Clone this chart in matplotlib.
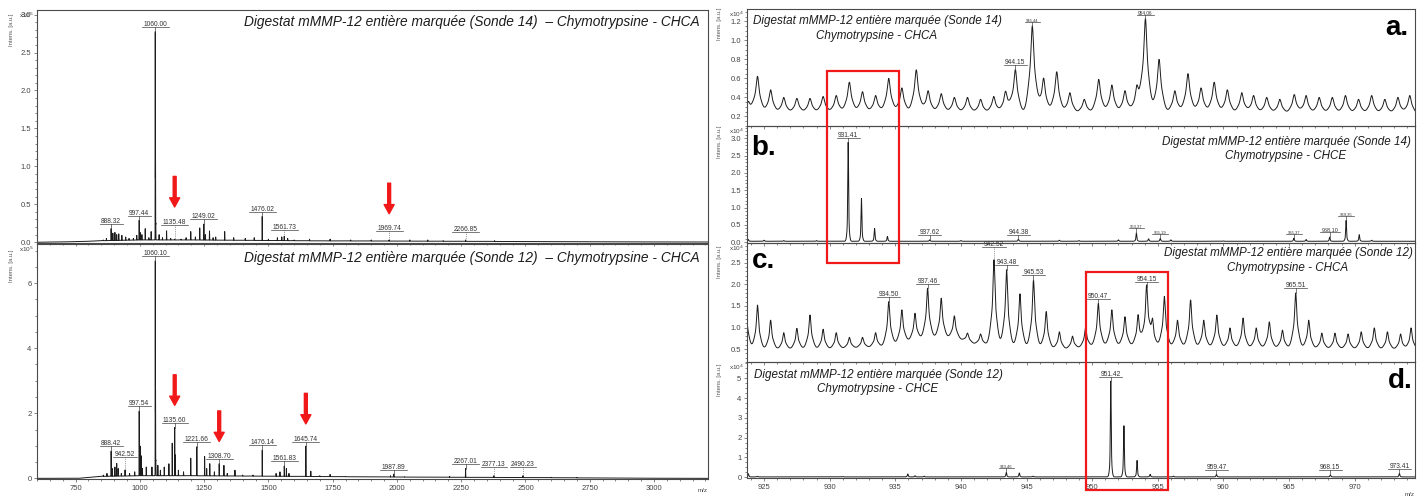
import numpy as np
import matplotlib
matplotlib.use("Agg")
import matplotlib.pyplot as plt
from matplotlib.patches import Rectangle
from matplotlib.lines import Line2D
from matplotlib.transforms import IdentityTransform
from matplotlib.ticker import MultipleLocator, FormatStrFormatter

plt.rcParams['font.family'] = ['Liberation Sans', 'DejaVu Sans']

# ---------------- full-range spectra, intensity in x10^5 a.u. ----------------
S14_MZ = [858, 870, 888.32, 895, 903, 910, 918, 930, 945, 958, 975, 988, 997.44, 1001, 1008,
          1021, 1035, 1044, 1060.00, 1061.0, 1062.0, 1075, 1088, 1104, 1120, 1135.48, 1160, 1180,
          1198, 1216, 1233, 1249.02, 1255, 1271, 1285, 1295, 1330, 1365, 1410, 1445, 1476.02,
          1500, 1535, 1552, 1561.73, 1575, 1600, 1660, 1740, 1820, 1900, 1969.74, 2050, 2120,
          2180, 2266.85, 2380]
S14_INT = [0.03, 0.05, 0.18, 0.12, 0.13, 0.10, 0.11, 0.09, 0.07, 0.05, 0.05, 0.09, 0.29, 0.13, 0.10,
           0.18, 0.06, 0.14, 2.77, 1.13, 0.25, 0.10, 0.06, 0.15, 0.05, 0.04, 0.04, 0.06,
           0.14, 0.07, 0.19, 0.24, 0.10, 0.15, 0.06, 0.07, 0.14, 0.06, 0.05, 0.06, 0.34,
           0.04, 0.06, 0.07, 0.08, 0.05, 0.03, 0.04, 0.04, 0.03, 0.03, 0.03, 0.03, 0.03,
           0.02, 0.03, 0.02]
S14_BASE_MZ = [600, 680, 780, 850, 1000, 1200, 1400, 1700, 2000, 2400, 2800, 3210]
S14_BASE_INT = [0.0, 0.003, 0.01, 0.02, 0.03, 0.03, 0.025, 0.018, 0.015, 0.01, 0.005, 0.003]
S14_LABELS = [888.32, 997.44, 1060.00, 1135.48, 1249.02, 1476.02, 1561.73, 1969.74, 2266.85]
S14_ARROWS = [1135.48, 1969.74]

S12_MZ = [858, 872, 888.42, 893, 903, 910, 916, 928, 942.52, 960, 980, 997.54, 1001, 1005, 1010,
          1025, 1047, 1060.10, 1061.1, 1062.1, 1070, 1080, 1095, 1113, 1126, 1135.60, 1138, 1150,
          1170, 1198, 1221.66, 1252, 1260, 1272, 1290, 1308.70, 1327, 1340, 1370, 1400, 1440,
          1476.14, 1530, 1545, 1561.83, 1570, 1580, 1645.74, 1665, 1700, 1740, 1800, 1975,
          1987.89, 2030, 2205, 2267.01, 2377.13, 2490.23, 2600, 2700]
S12_INT = [0.10, 0.15, 0.84, 0.30, 0.35, 0.46, 0.30, 0.15, 0.26, 0.15, 0.20, 2.07, 1.00, 0.70, 0.30,
           0.35, 0.35, 6.69, 2.69, 0.57, 0.40, 0.25, 0.35, 0.45, 1.08, 1.56, 0.72, 0.25,
           0.20, 0.62, 0.97, 0.67, 0.30, 0.45, 0.20, 0.45, 0.40, 0.15, 0.25, 0.10, 0.10,
           0.87, 0.15, 0.20, 0.38, 0.30, 0.15, 0.99, 0.22, 0.08, 0.12, 0.06, 0.08,
           0.13, 0.05, 0.06, 0.30, 0.08, 0.08, 0.03, 0.03]
S12_BASE_MZ = [600, 760, 800, 850, 1000, 1200, 1400, 1600, 1800, 2000, 2300, 2600, 2900, 3210]
S12_BASE_INT = [0.0, 0.0, 0.03, 0.06, 0.08, 0.08, 0.07, 0.06, 0.05, 0.04, 0.03, 0.02, 0.005, 0.0]
S12_LABELS = [888.42, 942.52, 997.54, 1060.10, 1135.60, 1221.66, 1308.70, 1476.14, 1561.83,
              1645.74, 1987.89, 2267.01, 2377.13, 2490.23]
S12_ARROWS = [1135.60, 1308.70, 1645.74]

# ---------------- zoomed spectra 923-975, intensity in x10^4 a.u. ----------------
A_MZ = [923.8, 924.5, 925.5, 926.5, 927.5, 928.5, 929.5, 930.5, 931.5, 932.5, 933.5, 934.5, 935.5,
        936.6, 937.5, 938.5, 939.5, 940.5, 941.5, 942.5, 943.4, 944.15, 945.44, 946.3, 947.3,
        948.3, 949.4, 950.5, 951.5, 952.5, 953.4, 954.06, 955.1, 956.3, 957.3, 958.3, 959.3,
        960.3, 961.4, 962.3, 963.3, 964.3, 965.4, 966.3, 967.3, 968.3, 969.3, 970.3, 971.3,
        972.3, 973.3, 974.2]
A_INT = [0.35, 0.62, 0.48, 0.40, 0.39, 0.39, 0.41, 0.42, 0.56, 0.46, 0.42, 0.60, 0.50,
         0.69, 0.47, 0.44, 0.40, 0.40, 0.38, 0.41, 0.46, 0.69, 1.15, 0.60, 0.67,
         0.45, 0.38, 0.59, 0.53, 0.47, 0.50, 1.22, 0.80, 0.47, 0.65, 0.50, 0.56,
         0.48, 0.45, 0.42, 0.40, 0.38, 0.43, 0.42, 0.40, 0.40, 0.42, 0.38, 0.42,
         0.38, 0.40, 0.42]
A_BASE_MZ = [923.0, 935.0, 945.0, 955.0, 976.0]
A_BASE_INT = [0.23, 0.24, 0.23, 0.24, 0.22]
A_LABELS = [944.15, 945.44, 954.06]

B_MZ = [923.8, 925.0, 926.5, 929.0, 931.41, 932.42, 933.42, 934.40, 937.62, 940.0, 944.38, 947.5,
        949.0, 952.0, 953.37, 954.3, 955.19, 956.0, 960.0, 965.37, 966.3, 968.10, 969.35,
        970.35, 971.3]
B_INT = [0.08, 0.06, 0.05, 0.05, 2.88, 1.26, 0.40, 0.17, 0.07, 0.05, 0.09, 0.06,
         0.05, 0.07, 0.27, 0.10, 0.11, 0.07, 0.04, 0.12, 0.08, 0.15, 0.63,
         0.22, 0.06]
B_BASE_MZ = [923.0, 976.0]
B_BASE_INT = [0.03, 0.03]
B_LABELS = [931.41, 937.62, 944.38, 953.37, 955.19, 965.37, 968.10, 969.35]

C_MZ = [923.6, 924.5, 925.5, 926.5, 927.5, 928.5, 929.5, 930.5, 931.5, 932.5, 933.5, 934.50, 935.5,
        936.5, 937.46, 938.5, 939.5, 940.5, 941.5, 942.52, 943.48, 944.5, 945.53, 946.5, 947.5,
        948.5, 949.5, 950.47, 951.5, 952.5, 953.5, 954.15, 954.6, 955.5, 956.5, 957.5, 958.5,
        959.5, 960.5, 961.5, 962.5, 963.5, 964.5, 965.51, 966.5, 967.5, 968.5, 969.5, 970.5,
        971.5, 972.5, 973.5, 974.3]
C_INT = [1.72, 1.52, 1.17, 0.88, 0.98, 1.29, 0.96, 0.88, 0.77, 0.77, 0.88, 1.60, 1.41,
         1.33, 1.91, 1.68, 1.27, 0.87, 0.85, 2.57, 2.34, 1.78, 2.10, 1.37, 0.90,
         0.80, 0.99, 1.56, 1.41, 1.25, 1.29, 1.95, 1.13, 1.72, 1.17, 1.64, 1.17,
         1.29, 0.99, 1.22, 0.99, 1.13, 0.94, 1.80, 1.17, 0.87, 0.87, 0.85, 0.90,
         0.99, 0.90, 0.85, 0.99]
C_BASE_MZ = [923.0, 930.0, 934.0, 936.0, 937.5, 939.5, 941.0, 944.0, 948.0, 951.0, 958.0, 976.0]
C_BASE_INT = [0.48, 0.50, 0.55, 0.68, 0.76, 0.76, 0.62, 0.55, 0.50, 0.58, 0.55, 0.48]
C_LABELS = [934.50, 937.46, 942.52, 943.48, 945.53, 950.47, 954.15, 965.51]

D_MZ = [923.8, 924.5, 931.0, 935.95, 936.5, 937.2, 943.46, 944.45, 945.5, 951.42, 952.42, 953.42,
        954.42, 956.2, 959.47, 968.15, 973.41]
D_INT = [0.18, 0.05, 0.04, 0.17, 0.08, 0.06, 0.25, 0.22, 0.06, 4.85, 2.60, 0.85,
         0.15, 0.06, 0.15, 0.12, 0.20]
D_BASE_MZ = [923.0, 976.0]
D_BASE_INT = [0.02, 0.02]
D_LABELS = [943.46, 951.42, 959.47, 968.15, 973.41]

TITLE_14 = "Digestat mMMP-12 entière marquée (Sonde 14)"
TITLE_12 = "Digestat mMMP-12 entière marquée (Sonde 12)"

# ---------------- styling ----------------
W, H, DPI = 1427, 500, 100
INK = '#1c1c1c'
RED = '#f01818'
LABEL_SIZE = 4.8
SMALL_LABEL_SIZE = {945.44: 3.0, 954.06: 3.4, 953.37: 3.0, 955.19: 3.0, 965.37: 3.0,
                    969.35: 3.0, 968.10: 4.0, 943.46: 3.0}
LABEL_LIFT_PX = {1135.48: 10, 942.52: 8, 2377.13: 4, 2490.23: 4, 1969.74: 4, 2266.85: 3,
                 1561.73: 2}

fig = plt.figure(figsize=(W / DPI, H / DPI), dpi=DPI)
fig.patch.set_facecolor('white')


def px_axes(l, t, r, b):
    return fig.add_axes([l / W, 1 - b / H, (r - l) / W, (b - t) / H])


def profile(x, mz, inten, base_mz, base_int, shape):
    base = np.interp(x, base_mz, base_int)
    y = base.copy()
    for m, h in zip(mz, inten):
        amp = max(h - np.interp(m, base_mz, base_int), 0.0)
        for frac, sig in shape:
            y += amp * frac * np.exp(-0.5 * ((x - m) / sig) ** 2)
    return y


def style_axes(ax, xlim, ylim, xmaj, xmin, ymaj, ymin, yfmt, xlabels):
    ax.set_xlim(*xlim)
    ax.set_ylim(*ylim)
    ax.xaxis.set_major_locator(MultipleLocator(xmaj))
    ax.xaxis.set_minor_locator(MultipleLocator(xmin))
    ax.yaxis.set_major_locator(MultipleLocator(ymaj))
    ax.yaxis.set_minor_locator(MultipleLocator(ymin))
    ax.yaxis.set_major_formatter(FormatStrFormatter(yfmt))
    ax.tick_params(which='both', direction='out', color='#555555', width=0.5,
                   labelsize=5.5, labelcolor='#444444', pad=1.5)
    ax.tick_params(which='major', length=2.5)
    ax.tick_params(which='minor', length=1.5)
    ax.tick_params(axis='x', labelbottom=xlabels)
    for s in ax.spines.values():
        s.set_color('#4a4a4a')
        s.set_linewidth(0.8)
    ax.patch.set_alpha(0)


label_records = []


def label_peaks(ax, mz, inten, labels):
    for lab in labels:
        i = int(np.argmin(np.abs(np.asarray(mz) - lab)))
        h = inten[i]
        fs = SMALL_LABEL_SIZE.get(lab, LABEL_SIZE)
        lift = LABEL_LIFT_PX.get(lab, 0) * 0.72
        t = ax.annotate(f"{lab:.2f}", xy=(mz[i], h), xytext=(0, 2.6 + lift),
                        textcoords='offset points', ha='center', va='bottom',
                        fontsize=fs, color='#333333', zorder=5)
        label_records.append((ax, t, mz[i], h))


def red_arrows(ax, mz, inten, targets):
    for tgt in targets:
        i = int(np.argmin(np.abs(np.asarray(mz) - tgt)))
        lift = LABEL_LIFT_PX.get(tgt, 0) * 0.72
        ax.annotate('', xy=(mz[i], inten[i]), xytext=(0, 16 + lift + 22),
                    textcoords='offset points',
                    arrowprops=dict(arrowstyle='simple,head_length=1.1,head_width=1.2,tail_width=0.35',
                                    color=RED, shrinkA=0, shrinkB=16 + lift, mutation_scale=6),
                    zorder=6)


def intens_label(x_px, y_center_px, power, ax_left_px, ax_top_px):
    fig.text(x_px / W, 1 - y_center_px / H, "Intens. [a.u.]", rotation=90, ha='center',
             va='center', fontsize=4.2, color='#555555')
    fig.text((ax_left_px - 3) / W, 1 - (ax_top_px + 1) / H, r"x10$^{%d}$" % power,
             ha='right', va='top', fontsize=4.6, color='#444444')


# ---------------- left column: full m/z range ----------------
xl = np.arange(600, 3210, 0.08)
left_shape = [(1.0, 0.3)]

ax1 = px_axes(37, 10, 708, 243)
ax1.plot(xl, profile(xl, S14_MZ, S14_INT, S14_BASE_MZ, S14_BASE_INT, left_shape),
         color=INK, lw=0.7)
style_axes(ax1, (600, 3210), (-0.01, 3.06), 250, 50, 0.5, 0.1, '%.1f', False)
label_peaks(ax1, S14_MZ, S14_INT, S14_LABELS)
red_arrows(ax1, S14_MZ, S14_INT, S14_ARROWS)
intens_label(11, 30, 5, 37, 10)

ax2 = px_axes(37, 244, 708, 479)
ax2.plot(xl, profile(xl, S12_MZ, S12_INT, S12_BASE_MZ, S12_BASE_INT, left_shape),
         color=INK, lw=0.7)
style_axes(ax2, (600, 3210), (-0.02, 7.2), 250, 50, 2, 0.5, '%d', True)
label_peaks(ax2, S12_MZ, S12_INT, S12_LABELS)
red_arrows(ax2, S12_MZ, S12_INT, S12_ARROWS)
intens_label(11, 266, 5, 37, 244)
fig.text(703 / W, 1 - 490 / H, "m/z", ha='center', va='center', fontsize=4.5, color='#444444')

fig.text(700 / W, 1 - 22 / H, TITLE_14 + "  – Chymotrypsine - CHCA", ha='right', va='center',
         fontsize=9.9, style='italic', color=INK)
fig.text(700 / W, 1 - 258 / H, TITLE_12 + "  – Chymotrypsine - CHCA", ha='right', va='center',
         fontsize=9.9, style='italic', color=INK)

# ---------------- right column: zoom 923-975 ----------------
xr = np.arange(923.7, 974.6, 0.005)
XR = (923.7, 974.6)

axa = px_axes(747, 9, 1415, 126)
axa.plot(xr, profile(xr, A_MZ, A_INT, A_BASE_MZ, A_BASE_INT, [(0.4, 0.08), (0.6, 0.27)]),
         color=INK, lw=0.7)
style_axes(axa, XR, (0.10, 1.33), 5, 1, 0.2, 0.05, '%.1f', False)
label_peaks(axa, A_MZ, A_INT, A_LABELS)
intens_label(720, 24, 4, 747, 9)

axb = px_axes(747, 126, 1415, 243)
axb.plot(xr, profile(xr, B_MZ, B_INT, B_BASE_MZ, B_BASE_INT, [(0.8, 0.03), (0.2, 0.08)]),
         color=INK, lw=0.7)
style_axes(axb, XR, (-0.02, 3.35), 5, 1, 0.5, 0.1, '%.1f', False)
label_peaks(axb, B_MZ, B_INT, B_LABELS)
intens_label(720, 142, 4, 747, 126)

axc = px_axes(747, 243, 1415, 362)
axc.plot(xr, profile(xr, C_MZ, C_INT, C_BASE_MZ, C_BASE_INT, [(0.5, 0.06), (0.5, 0.22)]),
         color=INK, lw=0.7)
style_axes(axc, XR, (0.2, 2.96), 5, 1, 0.5, 0.1, '%.1f', False)
label_peaks(axc, C_MZ, C_INT, C_LABELS)
intens_label(720, 262, 4, 747, 243)

axd = px_axes(747, 362, 1415, 478)
axd.plot(xr, profile(xr, D_MZ, D_INT, D_BASE_MZ, D_BASE_INT, [(0.8, 0.03), (0.2, 0.08)]),
         color=INK, lw=0.7)
style_axes(axd, XR, (-0.035, 5.82), 5, 1, 1, 0.25, '%d', True)
label_peaks(axd, D_MZ, D_INT, D_LABELS)
intens_label(720, 380, 4, 747, 362)
fig.text(1410 / W, 1 - 494 / H, "m/z", ha='center', va='center', fontsize=4.5, color='#444444')

# two-line captions inside the zoomed panels
captions = [
    (877, 28.5, TITLE_14 + "\nChymotrypsine - CHCA"),
    (1286, 149, TITLE_14 + "\nChymotrypsine - CHCE"),
    (1288, 260.5, TITLE_12 + "\nChymotrypsine - CHCA"),
    (878, 382, TITLE_12 + "\nChymotrypsine - CHCE"),
]
for cx, cy, txt in captions:
    fig.text(cx / W, 1 - cy / H, txt, ha='center', va='center', multialignment='center',
             fontsize=8.4, style='italic', color=INK, linespacing=1.25)

# panel letters
for lx, ly, letter, ha in [(1408, 35, 'a.', 'right'), (751, 155, 'b.', 'left'),
                           (752, 268, 'c.', 'left'), (1413, 388, 'd.', 'right')]:
    fig.text(lx / W, 1 - ly / H, letter, ha=ha, va='baseline', fontsize=20,
             fontweight='bold', color='black')

# highlighted isotopic clusters
for (l, t, r, b) in [(827, 71, 899, 263), (1086, 272, 1168, 490)]:
    fig.add_artist(Rectangle((l / W, 1 - b / H), (r - l) / W, (b - t) / H,
                             transform=fig.transFigure, fill=False, edgecolor=RED,
                             linewidth=1.6, zorder=10))

# underline each peak label and connect it to its peak
fig.canvas.draw()
renderer = fig.canvas.get_renderer()
for ax, t, m, h in label_records:
    bb = t.get_window_extent(renderer)
    px, py = ax.transData.transform((m, h))
    uy = bb.y0 + 1.0
    fig.add_artist(Line2D([bb.x0 - 1.5, bb.x1 + 1.5], [uy, uy], transform=IdentityTransform(),
                          color='#444444', lw=0.5, zorder=5))
    gap = uy - py
    if gap > 0.5:
        fig.add_artist(Line2D([px, px], [uy, py], transform=IdentityTransform(),
                              color='#444444', lw=0.5,
                              linestyle=':' if gap > 6 else '-', zorder=5))

fig.savefig("out.png", dpi=DPI, facecolor='white')
